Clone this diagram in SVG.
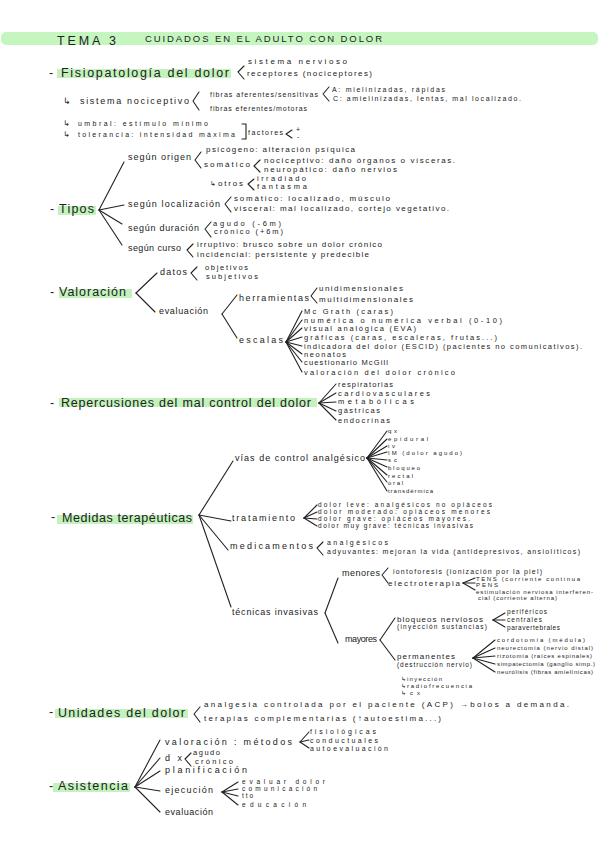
<svg xmlns="http://www.w3.org/2000/svg" width="599" height="848" viewBox="0 0 599 848">
<style>
text{font-family:"Liberation Sans","DejaVu Sans",sans-serif;fill:#222}
.h{font-size:12.5px}
.m{font-size:9px}
.s{font-size:8px}
.v{font-size:7.5px}
.x{font-size:7px}
.xx{font-size:6.5px}
.xs{font-size:6px}
.t{font-size:12.5px;letter-spacing:2px}
.ts{font-size:9.5px}
.hl{fill:#c3f2bc}
.c line,.c polyline,.c path{stroke:#222;stroke-width:1.1;fill:none;stroke-linecap:round;stroke-linejoin:round}
</style>
<rect x="0" y="0" width="599" height="848" fill="#ffffff"/>
<g id="title">
<rect x="1" y="32" width="597" height="13" rx="5" fill="#c6f6c0"/>
<text class="t" x="57" y="45" textLength="61">TEMA 3</text>
<text class="ts" x="145" y="42" textLength="237">CUIDADOS EN EL ADULTO CON DOLOR</text>
</g>
<g id="highlights">
<rect class="hl" x="57" y="69" width="174" height="9"/>
<rect class="hl" x="58" y="206" width="38" height="9"/>
<rect class="hl" x="59" y="289" width="73" height="9"/>
<rect class="hl" x="59" y="398" width="258" height="9"/>
<rect class="hl" x="57" y="515" width="136" height="9"/>
<rect class="hl" x="55" y="709" width="133" height="9"/>
<rect class="hl" x="53" y="783" width="77" height="9"/>
</g>
<g class="c" id="connectors">
<polyline points="244,66 238,72 244,79"/>
<polyline points="199,92 193,101 199,110"/>
<polyline points="329,87 323,94 329,101"/>
<path d="M242,124 H246 V139 H242"/>
<polyline points="292,130 286,134 292,138"/>
<line x1="99" y1="210" x2="124" y2="162"/>
<line x1="99" y1="210" x2="124" y2="205"/>
<line x1="99" y1="210" x2="122" y2="224"/>
<line x1="99" y1="210" x2="122" y2="245"/>
<polyline points="201,152 195,160 201,168"/>
<polyline points="260,160 254,166 260,172"/>
<polyline points="254,179 248,184 254,190"/>
<polyline points="231,197 225,204 231,212"/>
<polyline points="211,222 205,229 211,237"/>
<polyline points="193,244 187,250 193,257"/>
<line x1="136" y1="293" x2="157" y2="273"/>
<line x1="136" y1="293" x2="155" y2="312"/>
<polyline points="197,267 191,273 197,280"/>
<line x1="222" y1="314" x2="237" y2="295"/>
<line x1="222" y1="314" x2="237" y2="338"/>
<polyline points="317,288 311,296 317,303"/>
<line x1="286" y1="342" x2="302" y2="311"/>
<line x1="286" y1="342" x2="302" y2="320"/>
<line x1="286" y1="342" x2="302" y2="328"/>
<line x1="286" y1="342" x2="302" y2="337"/>
<line x1="286" y1="342" x2="302" y2="346"/>
<line x1="286" y1="342" x2="302" y2="354"/>
<line x1="286" y1="342" x2="302" y2="362"/>
<line x1="286" y1="342" x2="302" y2="372"/>
<line x1="319" y1="403" x2="336" y2="384"/>
<line x1="319" y1="403" x2="336" y2="393"/>
<line x1="319" y1="403" x2="336" y2="402"/>
<line x1="319" y1="403" x2="336" y2="411"/>
<line x1="319" y1="403" x2="336" y2="420"/>
<line x1="199" y1="515" x2="233" y2="461"/>
<line x1="199" y1="515" x2="231" y2="521"/>
<line x1="199" y1="515" x2="228" y2="550"/>
<line x1="199" y1="515" x2="231" y2="607"/>
<line x1="367" y1="458" x2="387" y2="431"/>
<line x1="367" y1="458" x2="387" y2="439"/>
<line x1="367" y1="458" x2="387" y2="446"/>
<line x1="367" y1="458" x2="387" y2="452"/>
<line x1="367" y1="458" x2="387" y2="460"/>
<line x1="367" y1="458" x2="387" y2="467"/>
<line x1="367" y1="458" x2="387" y2="475"/>
<line x1="367" y1="458" x2="387" y2="482"/>
<line x1="367" y1="458" x2="387" y2="491"/>
<line x1="304" y1="518" x2="317" y2="505"/>
<line x1="304" y1="518" x2="317" y2="512"/>
<line x1="304" y1="518" x2="317" y2="519"/>
<line x1="304" y1="518" x2="317" y2="526"/>
<polyline points="323,542 317,548 323,555"/>
<line x1="325" y1="613" x2="338" y2="578"/>
<line x1="325" y1="613" x2="338" y2="643"/>
<polyline points="388,568 382,575 388,583"/>
<line x1="463" y1="583" x2="475" y2="578"/>
<line x1="463" y1="583" x2="475" y2="583"/>
<line x1="463" y1="583" x2="475" y2="590"/>
<line x1="380" y1="640" x2="395" y2="618"/>
<line x1="380" y1="640" x2="395" y2="660"/>
<line x1="493" y1="620" x2="505" y2="613"/>
<line x1="493" y1="620" x2="505" y2="620"/>
<line x1="493" y1="620" x2="505" y2="627"/>
<line x1="473" y1="658" x2="495" y2="640"/>
<line x1="473" y1="658" x2="495" y2="648"/>
<line x1="473" y1="658" x2="495" y2="656"/>
<line x1="473" y1="658" x2="495" y2="664"/>
<line x1="473" y1="658" x2="495" y2="672"/>
<polyline points="200,707 194,714 200,722"/>
<line x1="135" y1="787" x2="160" y2="740"/>
<line x1="135" y1="787" x2="160" y2="758"/>
<line x1="135" y1="787" x2="160" y2="771"/>
<line x1="135" y1="787" x2="160" y2="791"/>
<line x1="135" y1="787" x2="160" y2="812"/>
<line x1="300" y1="742" x2="309" y2="732"/>
<line x1="300" y1="742" x2="309" y2="740"/>
<line x1="300" y1="742" x2="309" y2="748"/>
<polyline points="191,753 185,759 191,766"/>
<line x1="222" y1="792" x2="238" y2="782"/>
<line x1="222" y1="792" x2="238" y2="789"/>
<line x1="222" y1="792" x2="238" y2="796"/>
<line x1="222" y1="792" x2="238" y2="805"/>
</g>
<g id="n-fisio"><text class="h" x="49" y="77">-</text><text class="h" x="61" y="77" textLength="168">Fisiopatología del dolor</text></g>
<g id="n-sisnerv"><text class="s" x="248" y="64" textLength="99">sistema nervioso</text></g>
<g id="n-recept"><text class="s" x="247" y="76" textLength="125">receptores (nociceptores)</text></g>
<g id="n-sisnoci"><text class="m" x="63" y="104">↳</text><text class="m" x="80" y="104" textLength="109">sistema nociceptivo</text></g>
<g id="n-afer"><text class="x" x="210" y="97" textLength="108">fibras aferentes/sensitivas</text></g>
<g id="n-efer"><text class="x" x="210" y="111" textLength="97">fibras eferentes/motoras</text></g>
<g id="n-fibA"><text class="x" x="332" y="92" textLength="113">A: mielinizadas, rápidas</text></g>
<g id="n-fibC"><text class="x" x="333" y="101" textLength="188">C: amielinizadas, lentas, mal localizado.</text></g>
<g id="n-umbral"><text class="s" x="63" y="126">↳</text><text class="x" x="78" y="126" textLength="130">umbral: estímulo mínimo</text></g>
<g id="n-toler"><text class="s" x="63" y="137">↳</text><text class="x" x="78" y="137" textLength="157">tolerancia: intensidad máxima</text></g>
<g id="n-factores"><text class="x" x="248" y="135" textLength="35">factores</text><text class="x" x="296" y="132">+</text><text class="x" x="297" y="139">-</text></g>
<g id="n-tipos"><text class="h" x="50" y="213">-</text><text class="h" x="59" y="213" textLength="35">Tipos</text></g>
<g id="n-origen"><text class="m" x="128" y="160" textLength="63">según origen</text></g>
<g id="n-psico"><text class="s" x="206" y="152" textLength="149">psicógeno: alteración psíquica</text></g>
<g id="n-somat"><text class="s" x="204" y="167" textLength="46">somático</text></g>
<g id="n-nocic"><text class="s" x="264" y="163" textLength="191">nociceptivo: daño órganos o vísceras.</text></g>
<g id="n-neuro"><text class="s" x="264" y="172" textLength="133">neuropático: daño nervios</text></g>
<g id="n-otros"><text class="x" x="210" y="186">↳</text><text class="s" x="218" y="186" textLength="25">otros</text></g>
<g id="n-irrad"><text class="v" x="257" y="181" textLength="49">irradiado</text></g>
<g id="n-fant"><text class="v" x="257" y="189" textLength="50">fantasma</text></g>
<g id="n-local"><text class="m" x="128" y="207" textLength="92">según localización</text></g>
<g id="n-somloc"><text class="s" x="234" y="201" textLength="156">somático: localizado, músculo</text></g>
<g id="n-visc"><text class="s" x="234" y="211" textLength="215">visceral: mal localizado, cortejo vegetativo.</text></g>
<g id="n-durac"><text class="m" x="128" y="231" textLength="71">según duración</text></g>
<g id="n-agudo"><text class="v" x="213" y="226" textLength="68">agudo (-6m)</text></g>
<g id="n-cronico"><text class="v" x="214" y="234" textLength="69">crónico (+6m)</text></g>
<g id="n-curso"><text class="m" x="128" y="251" textLength="53">según curso</text></g>
<g id="n-irrup"><text class="s" x="197" y="247" textLength="185">irruptivo: brusco sobre un dolor crónico</text></g>
<g id="n-incid"><text class="s" x="197" y="257" textLength="172">incidencial: persistente y predecible</text></g>
<g id="n-valor"><text class="h" x="50" y="296">-</text><text class="h" x="59" y="296" textLength="67">Valoración</text></g>
<g id="n-datos"><text class="m" x="160" y="275" textLength="27">datos</text></g>
<g id="n-obj"><text class="v" x="205" y="270" textLength="43">objetivos</text></g>
<g id="n-subj"><text class="v" x="206" y="279" textLength="52">subjetivos</text></g>
<g id="n-eval"><text class="m" x="159" y="314" textLength="49">evaluación</text></g>
<g id="n-herr"><text class="m" x="239" y="301" textLength="70">herramientas</text></g>
<g id="n-unid"><text class="s" x="319" y="291" textLength="84">unidimensionales</text></g>
<g id="n-multi"><text class="s" x="319" y="302" textLength="94">multidimensionales</text></g>
<g id="n-escalas"><text class="m" x="239" y="343" textLength="44">escalas</text></g>
<g id="n-esc1"><text class="v" x="304" y="314" textLength="89">Mc Grath (caras)</text></g>
<g id="n-esc2"><text class="v" x="304" y="323" textLength="198">numérica o numérica verbal (0-10)</text></g>
<g id="n-esc3"><text class="v" x="304" y="331" textLength="112">visual analógica (EVA)</text></g>
<g id="n-esc4"><text class="v" x="304" y="340" textLength="193">gráficas (caras, escaleras, frutas...)</text></g>
<g id="n-esc5"><text class="v" x="304" y="349" textLength="278">indicadora del dolor (ESCID) (pacientes no comunicativos).</text></g>
<g id="n-esc6"><text class="v" x="304" y="357" textLength="42">neonatos</text></g>
<g id="n-esc7"><text class="v" x="304" y="365" textLength="84">cuestionario McGill</text></g>
<g id="n-esc8"><text class="v" x="304" y="375" textLength="151">valoración del dolor crónico</text></g>
<g id="n-reper"><text class="h" x="50" y="407">-</text><text class="h" x="61" y="407" textLength="250">Repercusiones del mal control del dolor</text></g>
<g id="n-rep1"><text class="v" x="338" y="387" textLength="55">respiratorias</text></g>
<g id="n-rep2"><text class="v" x="338" y="396" textLength="92">cardiovasculares</text></g>
<g id="n-rep3"><text class="v" x="338" y="404" textLength="76">metabólicas</text></g>
<g id="n-rep4"><text class="v" x="338" y="413" textLength="42">gástricas</text></g>
<g id="n-rep5"><text class="v" x="338" y="423" textLength="52">endocrinas</text></g>
<g id="n-medidas"><text class="h" x="51" y="521">-</text><text class="h" x="62" y="522" textLength="130">Medidas terapéuticas</text></g>
<g id="n-vias"><text class="m" x="235" y="461" textLength="130">vías de control analgésico</text></g>
<g id="n-via1"><text class="xs" x="388" y="433" textLength="9">qx</text></g>
<g id="n-via2"><text class="xs" x="388" y="441" textLength="40">epidural</text></g>
<g id="n-via3"><text class="xs" x="388" y="448" textLength="7">iv</text></g>
<g id="n-via4"><text class="xs" x="388" y="455" textLength="74">IM (dolor agudo)</text></g>
<g id="n-via5"><text class="xs" x="388" y="462" textLength="9">sc</text></g>
<g id="n-via6"><text class="xs" x="388" y="470" textLength="32">bloqueo</text></g>
<g id="n-via7"><text class="xs" x="388" y="478" textLength="25">rectal</text></g>
<g id="n-via8"><text class="xs" x="388" y="485" textLength="15">oral</text></g>
<g id="n-via9"><text class="xs" x="388" y="493" textLength="45">transdérmica</text></g>
<g id="n-trat"><text class="m" x="232" y="521" textLength="63">tratamiento</text></g>
<g id="n-tr1"><text class="xx" x="318" y="507" textLength="174">dolor leve: analgésicos no opiáceos</text></g>
<g id="n-tr2"><text class="xx" x="318" y="514" textLength="172">dolor moderado: opiáceos menores</text></g>
<g id="n-tr3"><text class="xx" x="318" y="521" textLength="152">dolor grave: opiáceos mayores.</text></g>
<g id="n-tr4"><text class="xx" x="318" y="528" textLength="155">dolor muy grave: técnicas invasivas</text></g>
<g id="n-medic"><text class="m" x="230" y="549" textLength="83">medicamentos</text></g>
<g id="n-analg"><text class="x" x="327" y="545" textLength="61">analgésicos</text></g>
<g id="n-adyuv"><text class="x" x="327" y="554" textLength="253">adyuvantes: mejoran la vida (antidepresivos, ansiolíticos)</text></g>
<g id="n-tecn"><text class="m" x="232" y="615" textLength="86">técnicas invasivas</text></g>
<g id="n-menores"><text class="m" x="342" y="576" textLength="38">menores</text></g>
<g id="n-ionto"><text class="x" x="393" y="574" textLength="149">iontoforesis (ionización por la piel)</text></g>
<g id="n-electro"><text class="s" x="388" y="586" textLength="72">electroterapia</text></g>
<g id="n-tens"><text class="xs" x="476" y="580.5" textLength="104">TENS (corriente continua</text></g>
<g id="n-pens"><text class="xs" x="476" y="586.5" textLength="22">PENS</text></g>
<g id="n-estim"><text class="xs" x="476" y="593.5" textLength="117">estimulación nerviosa interferen-</text><text class="xs" x="478" y="600" textLength="79">cial (corriente alterna)</text></g>
<g id="n-mayores"><text class="m" x="345" y="642" textLength="32">mayores</text></g>
<g id="n-bloq"><text class="s" x="397" y="621.5" textLength="86">bloqueos nerviosos</text><text class="xx" x="397" y="629" textLength="90">(inyección sustancias)</text></g>
<g id="n-perif"><text class="xx" x="507" y="614" textLength="40">periféricos</text></g>
<g id="n-centr"><text class="xx" x="507" y="622" textLength="35">centrales</text></g>
<g id="n-parav"><text class="xx" x="507" y="629.5" textLength="53">paravertebrales</text></g>
<g id="n-perm"><text class="s" x="397" y="659" textLength="58">permanentes</text><text class="xx" x="397" y="667" textLength="75">(destrucción nervio)</text></g>
<g id="n-p1"><text class="xs" x="497" y="642" textLength="88">cordotomía (médula)</text></g>
<g id="n-p2"><text class="xs" x="497" y="650" textLength="96">neurectomía (nervio distal)</text></g>
<g id="n-p3"><text class="xs" x="497" y="658" textLength="95">rizotomía (raíces espinales)</text></g>
<g id="n-p4"><text class="xs" x="497" y="666" textLength="98">simpatectomía (ganglio simp.)</text></g>
<g id="n-p5"><text class="xs" x="497" y="674" textLength="96">neurólisis (fibras amielínicas)</text></g>
<g id="n-iny"><text class="xs" x="401" y="681">↳</text><text class="xs" x="407" y="681" textLength="35">inyección</text></g>
<g id="n-radio"><text class="xs" x="401" y="688">↳</text><text class="xs" x="407" y="688" textLength="65">radiofrecuencia</text></g>
<g id="n-cx"><text class="xs" x="401" y="695">↳</text><text class="xs" x="410" y="695" textLength="10">cx</text></g>
<g id="n-unidades"><text class="h" x="49" y="716">-</text><text class="h" x="58" y="717" textLength="127">Unidades del dolor</text></g>
<g id="n-acp"><text class="s" x="204" y="707" textLength="365">analgesia controlada  por el paciente (ACP) →bolos a demanda.</text></g>
<g id="n-terap"><text class="s" x="204" y="721" textLength="237">terapias complementarias (↑autoestima...)</text></g>
<g id="n-asist"><text class="h" x="49" y="790">-</text><text class="h" x="58" y="790" textLength="70">Asistencia</text></g>
<g id="n-valmet"><text class="m" x="165" y="745" textLength="127">valoración : métodos</text></g>
<g id="n-fisiol"><text class="x" x="310" y="734" textLength="66">fisiológicas</text></g>
<g id="n-conduc"><text class="x" x="310" y="742.5" textLength="68">conductuales</text></g>
<g id="n-autoev"><text class="x" x="310" y="751" textLength="78">autoevaluación</text></g>
<g id="n-dx"><text class="m" x="165" y="761" textLength="17">dx</text></g>
<g id="n-dxag"><text class="v" x="193" y="755" textLength="27">agudo</text></g>
<g id="n-dxcr"><text class="v" x="195" y="764" textLength="38">crónico</text></g>
<g id="n-plan"><text class="m" x="165" y="773" textLength="82">planificación</text></g>
<g id="n-ejec"><text class="m" x="165" y="793" textLength="48">ejecución</text></g>
<g id="n-ej1"><text class="xx" x="242" y="784" textLength="83">evaluar dolor</text></g>
<g id="n-ej2"><text class="xx" x="242" y="791" textLength="75">comunicación</text></g>
<g id="n-ej3"><text class="xx" x="242" y="798" textLength="11">tto</text></g>
<g id="n-ej4"><text class="xx" x="242" y="807" textLength="64">educación</text></g>
<g id="n-evalu"><text class="m" x="165" y="815" textLength="48">evaluación</text></g>
</svg>
